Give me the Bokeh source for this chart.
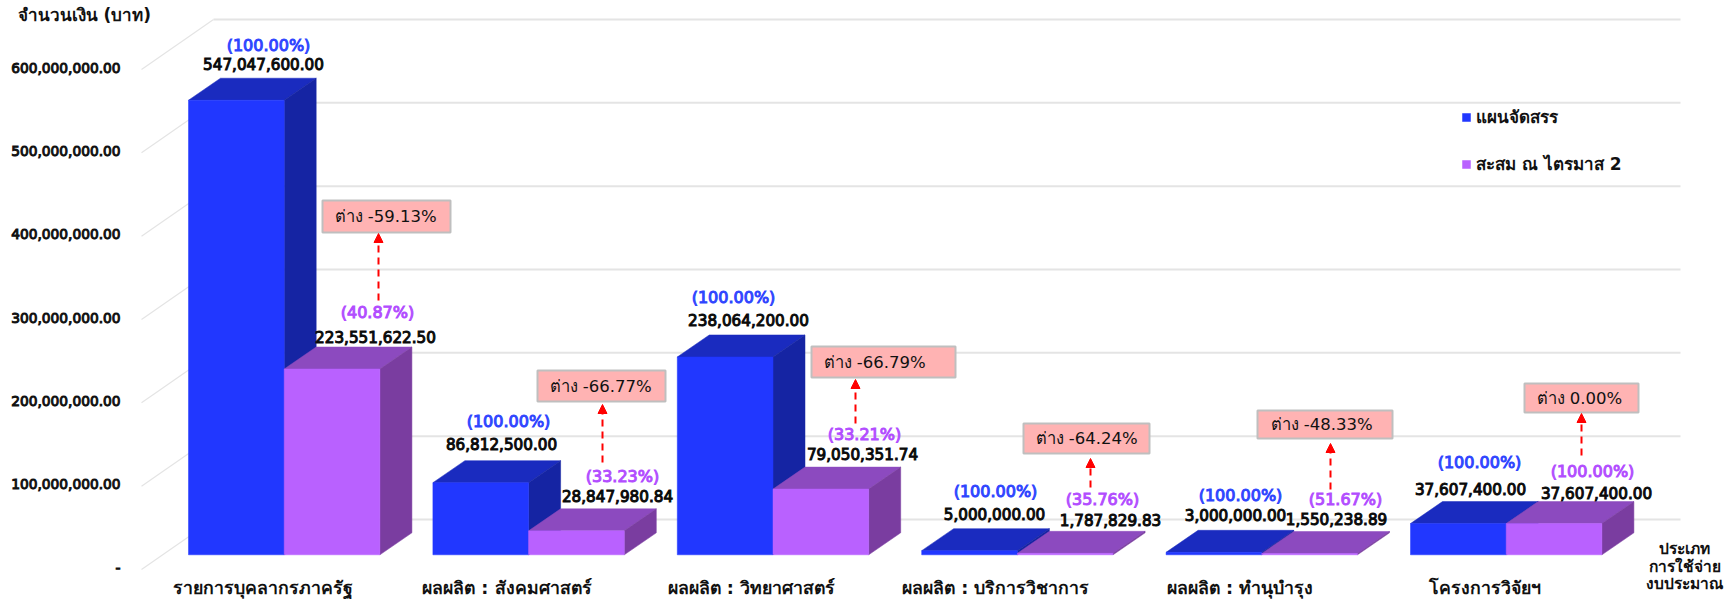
from bokeh.plotting import figure
from bokeh.models import (Range1d, LinearAxis, FixedTicker, NumeralTickFormatter, Legend, LegendItem,
                          Label, Arrow, NormalHead, ColumnDataSource)
from bokeh.core.properties import value
from bokeh.embed import file_html
from bokeh.resources import INLINE

# ---------- data ----------
categories = ["รายการบุคลากรภาครัฐ", "ผลผลิต : สังคมศาสตร์", "ผลผลิต : วิทยาศาสตร์",
              "ผลผลิต : บริการวิชาการ", "ผลผลิต : ทำนุบำรุง", "โครงการวิจัยฯ"]
plan = [547047600.00, 86812500.00, 238064200.00, 5000000.00, 3000000.00, 37607400.00]
actual = [223551622.50, 28847980.84, 79050351.74, 1787829.83, 1550238.89, 37607400.00]
plan_pct = ["(100.00%)"] * 6
actual_pct = ["(40.87%)", "(33.23%)", "(33.21%)", "(35.76%)", "(51.67%)", "(100.00%)"]
diff_labels = ["ต่าง -59.13%", "ต่าง -66.77%", "ต่าง -66.79%", "ต่าง -64.24%", "ต่าง -48.33%", "ต่าง 0.00%"]
y_ticks = [0, 100000000, 200000000, 300000000, 400000000, 500000000, 600000000]
series_names = ["แผนจัดสรร", "สะสม ณ ไตรมาส 2"]

# ---------- layout (page pixels) ----------
PAGE_W, PAGE_H = 1733, 599
AXIS_X, AXIS_Y = 141, 570     # where the two axes are pinned inside the frame
G0, GSTEP = 188.0, 244.4      # first group's left edge, group pitch
BASE = 554.3                  # bars' front base line
PPV = 83.1 / 1e8              # pixels per baht
BAR_W = 95.7
DEPTH_X, DEPTH_Y = 32.0, 22.0
FRONT0, FRONT_PER_PX = 569.0, 1.2e6   # axis plane, value 0 at px 569
AXIS_TEXT_SHIFT = 2.0         # tick labels sit a little above the grid's ends
FONT = "DejaVu Sans"

px2x = lambda px: (px - G0) / GSTEP
px2y = lambda py: (BASE - py) / PPV
DX, DY, W = DEPTH_X / GSTEP, DEPTH_Y / PPV, BAR_W / GSTEP

p = figure(width=PAGE_W, height=PAGE_H, output_backend="svg", toolbar_location=None,
           x_range=Range1d(px2x(0), px2x(PAGE_W)), y_range=Range1d(px2y(PAGE_H), px2y(0)),
           x_axis_location=None, y_axis_location=None,
           min_border_left=0, min_border_right=0, min_border_top=0, min_border_bottom=0,
           background_fill_color="white", border_fill_color="white")
p.outline_line_color = None
p.grid.visible = False

p.extra_y_ranges["front"] = Range1d((FRONT0 - PAGE_H) * FRONT_PER_PX, FRONT0 * FRONT_PER_PX)
p.extra_y_ranges["axis"] = Range1d((FRONT0 - AXIS_TEXT_SHIFT - PAGE_H) * FRONT_PER_PX,
                                   (FRONT0 - AXIS_TEXT_SHIFT) * FRONT_PER_PX)
p.extra_x_ranges["cat"] = Range1d(-262 / GSTEP, (PAGE_W - 262) / GSTEP)

# axes, pinned inside the frame
yax = LinearAxis(y_range_name="axis", ticker=FixedTicker(ticks=y_ticks), fixed_location=px2x(AXIS_X),
                 formatter=NumeralTickFormatter(format="0,0.00"),
                 major_label_overrides={0: "-"}, axis_line_color=None, major_tick_line_color=None,
                 minor_tick_line_color=None, major_label_standoff=15,
                 major_label_text_font=FONT, major_label_text_font_size="13.75px",
                 major_label_text_color="#111111", major_label_text_outline_color="#111111")
p.add_layout(yax, "left")
xax = LinearAxis(x_range_name="cat", ticker=FixedTicker(ticks=list(range(6))), fixed_location=px2y(AXIS_Y),
                 major_label_overrides={i: c for i, c in enumerate(categories)},
                 axis_line_color=None, major_tick_line_color=None, minor_tick_line_color=None,
                 major_label_standoff=1, major_label_text_font=FONT, major_label_text_font_size="17.7px",
                 major_label_text_font_style="bold", major_label_text_color="#111111")
p.add_layout(xax, "below")

# 3D grid
gx0, gx1, gx2 = px2x(141), px2x(213), px2x(1680)
back = 50 * FRONT_PER_PX
p.segment(x0=[gx0] * 7, y0=y_ticks, x1=[gx1] * 7, y1=[t + back for t in y_ticks],
          y_range_name="front", line_color="#E4E4E4", line_width=1.2)
p.segment(x0=[gx1] * 7, y0=[t + back for t in y_ticks], x1=[gx2] * 7, y1=[t + back for t in y_ticks],
          y_range_name="front", line_color="#E4E4E4", line_width=2)

# bars
def prism(values, offset, front, top, side, name):
    xs = [i + offset for i in range(len(values))]
    p.patches([[x, x + W, x + W + DX, x + DX] for x in xs],
              [[v, v, v + DY, v + DY] for v in values], fill_color=top, line_color=top, line_width=0.5)
    p.patches([[x + W, x + W + DX, x + W + DX, x + W] for x in xs],
              [[0, DY, v + DY, v] for v in values], fill_color=side, line_color=side, line_width=0.5)
    return p.vbar(x=[x + W / 2 for x in xs], top=values, bottom=0, width=W, fill_color=front, line_color=front,
                  line_width=0.5)

r_plan = prism(plan, 0, "#2137FF", "#1A2BBF", "#1524A3", series_names[0])
r_act = prism(actual, W, "#B961FF", "#8C4ABF", "#7A3DA0", series_names[1])

# value labels, anchored to group position & bar value, offset in px
plan_pct_off = [(80, -54.3), (75.6, -60.7), (56.2, -59.7), (73.8, -58.8), (74.4, -56.5), (69, -60.7)]
plan_val_off = [(75, -36.3), (68.6, -38.7), (71.2, -36.7), (72.8, -36.8), (69.4, -37.5), (60, -34.7)]
act_pct_off = [(189, -56.8), (189.6, -54), (187.2, -54.2), (180.8, -53.5), (179.4, -53.7), (182, -51.7)]
act_val_off = [(187, -31.8), (184.6, -35), (185.2, -35.2), (188.8, -33.5), (170.4, -34.7), (186, -30.7)]

def labels(vals, texts, offs, color, size):
    src = ColumnDataSource(dict(x=list(range(6)), y=vals, t=texts,
                                dx=[o[0] for o in offs], dy=[o[1] for o in offs]))
    p.text("x", "y", text="t", source=src, x_offset="dx", y_offset="dy", text_align="center",
           text_baseline="middle", text_color=color, text_outline_color=color,
           text_font=value(FONT), text_font_size=size)

fmt = lambda v: f"{v:,.2f}"
labels(plan, plan_pct, plan_pct_off, "#2F45FF", "16px")
labels(plan, [fmt(v) for v in plan], plan_val_off, "#0A0A0A", "15.2px")
labels(actual, actual_pct, act_pct_off, "#B24DFF", "16px")
labels(actual, [fmt(v) for v in actual], act_val_off, "#0A0A0A", "15.2px")

# difference call-outs (page pixels: left, right, top, bottom, text-left, arrow x, arrow bottom, arrow top)
callouts = [(322, 450, 200, 232, 334, 378, 300, 233),
            (537, 665, 370, 401, 549, 602, 462, 404),
            (811, 955, 346, 377, 823, 855, 423, 379),
            (1023, 1149, 423, 453, 1035, 1090, 487, 458),
            (1257, 1392, 410, 438, 1270, 1330, 489, 443),
            (1524, 1638, 383, 412, 1536, 1581, 455, 413)]
p.quad(left=[px2x(c[0]) for c in callouts], right=[px2x(c[1]) for c in callouts],
       top=[px2y(c[2]) for c in callouts], bottom=[px2y(c[3]) for c in callouts],
       fill_color="#FFB3B3", line_color="#BFBFBF", line_width=2)
p.text(x=[px2x(c[4]) for c in callouts], y=[px2y((c[2] + c[3]) / 2) for c in callouts], text=diff_labels,
       text_align="left", text_baseline="middle", text_color="#111111", text_font=value(FONT),
       text_font_size="16.5px")
for c in callouts:
    p.add_layout(Arrow(x_start=px2x(c[5]), y_start=px2y(c[6]), x_end=px2x(c[5]), y_end=px2y(c[7]),
                       line_color="#FF0000", line_width=2, line_dash="7 5",
                       end=NormalHead(size=9, fill_color="#FF0000", line_color="#FF0000", line_width=1)))

# free texts
p.add_layout(Label(x=px2x(17), y=px2y(14.5), text="จำนวนเงิน (บาท)", text_font=FONT, text_font_style="bold",
                   text_font_size="17px", text_baseline="middle", text_color="#111111"))
for txt, py in zip(["ประเภท", "การใช้จ่าย", "งบประมาณ"], [548, 566, 583]):
    p.add_layout(Label(x=px2x(1684), y=px2y(py), text=txt, text_font=FONT, text_font_style="bold",
                       text_font_size="15.5px", text_align="center", text_baseline="middle",
                       text_color="#111111"))

# legend
legend = Legend(items=[LegendItem(label=series_names[0], renderers=[r_plan]),
                       LegendItem(label=series_names[1], renderers=[r_act])],
                location=(1461, 422), border_line_alpha=0, background_fill_alpha=0, padding=0, margin=0,
                spacing=20, glyph_width=10, glyph_height=10, label_standoff=5,
                label_text_font=FONT, label_text_font_style="bold", label_text_font_size="17px",
                label_text_color="#111111", label_height=17)
p.add_layout(legend, "center")

open("out.html", "w").write(file_html(p, INLINE))
